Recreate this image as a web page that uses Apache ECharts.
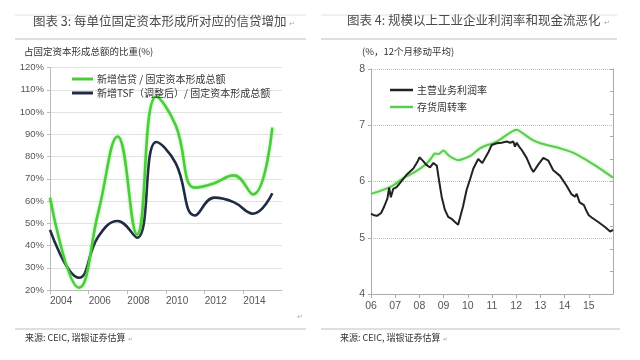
<!DOCTYPE html>
<html>
<head>
<meta charset="utf-8">
<script src="https://cdn.jsdelivr.net/npm/echarts@6/dist/echarts.min.js"></script>
<style>
html,body{margin:0;padding:0;background:#fff;}
#c{width:640px;height:360px;}
</style>
</head>
<body>
<div id="c"></div>
<script>
// ---- Chart 3 (left): annual ratios, x in years ----
var leftYears = [2003.5, 2005, 2006, 2007, 2008, 2009, 2010, 2011, 2012, 2013, 2014, 2015];
var loanRatio = [61.5, 21, 55, 89, 45, 107, 94, 66, 68, 71.5, 63, 93];
var tsfRatio  = [47, 25.5, 44, 51, 43.5, 86.5, 77, 53.5, 61.5, 59.5, 54.3, 63.5];
var leftNames = ['新增信贷 / 固定资本形成总额', '新增TSF（调整后）/ 固定资本形成总额'];

// ---- Chart 4 (right): 12-month moving averages, x in decimal years ----
var profitT = [2006.00,2006.12,2006.25,2006.42,2006.55,2006.68,2006.75,2006.82,2006.92,2007.06,2007.27,2007.47,2007.75,2007.92,2008.00,2008.12,2008.28,2008.44,2008.58,2008.72,2008.80,2008.92,2009.05,2009.19,2009.35,2009.47,2009.60,2009.65,2009.80,2009.95,2010.10,2010.23,2010.43,2010.60,2010.68,2010.85,2010.99,2011.19,2011.40,2011.61,2011.75,2011.88,2011.95,2012.02,2012.12,2012.23,2012.43,2012.60,2012.71,2012.91,2013.12,2013.33,2013.53,2013.81,2014.09,2014.29,2014.43,2014.50,2014.62,2014.80,2014.91,2015.00,2015.12,2015.39,2015.67,2015.88,2016.00];
var profitV = [5.43,5.40,5.39,5.44,5.56,5.70,5.89,5.72,5.87,5.90,6.01,6.12,6.23,6.35,6.43,6.38,6.30,6.25,6.33,6.28,6.05,5.73,5.50,5.37,5.33,5.28,5.23,5.20,5.55,5.85,6.05,6.23,6.40,6.33,6.35,6.52,6.65,6.68,6.69,6.71,6.69,6.71,6.62,6.69,6.62,6.56,6.42,6.25,6.17,6.30,6.42,6.37,6.20,6.10,5.92,5.77,5.73,5.78,5.63,5.58,5.47,5.40,5.36,5.28,5.19,5.11,5.14];
var turnT = [2006.00,2006.50,2006.92,2007.33,2007.82,2008.30,2008.55,2008.64,2008.80,2008.99,2009.19,2009.40,2009.60,2009.80,2010.09,2010.30,2010.50,2010.75,2011.05,2011.35,2011.61,2011.88,2012.02,2012.29,2012.71,2013.00,2013.26,2013.81,2014.36,2014.91,2015.46,2016.00];
var turnV = [5.78,5.85,5.93,6.06,6.17,6.32,6.45,6.50,6.49,6.55,6.47,6.41,6.38,6.40,6.45,6.52,6.59,6.64,6.68,6.75,6.83,6.90,6.92,6.85,6.73,6.68,6.65,6.59,6.51,6.38,6.23,6.07];
var rightNames = ['主营业务利润率', '存货周转率'];

function pairs(xs, ys){ return xs.map(function(x,i){ return [x, ys[i]]; }); }

var CJK = '"Noto Sans CJK SC", "Liberation Sans", sans-serif';
var NUM = '"Liberation Sans", "Noto Sans CJK SC", sans-serif';
var GREEN = '#4ccc3c';
var NAVY = '#1e2b42';

function txt(x, y, s, size, color){
  return {type:'text', left:x, top:y - size*0.65, silent:true,
    style:{text:s, fontSize:size, fontFamily:CJK, fill:color||'#555'}};
}
function hline(x1, x2, y, color, w){
  return {type:'line', silent:true, shape:{x1:x1, y1:y, x2:x2, y2:y},
    style:{stroke:color, lineWidth:w}};
}

var chart = echarts.init(document.getElementById('c'), null, {renderer:'canvas'});
chart.setOption({
  animation:false,
  backgroundColor:'#fff',
  textStyle:{fontFamily:CJK},
  grid:[
    {left:50, top:67.5, width:232, height:222.5},
    {left:371, top:69, width:242, height:225}
  ],
  xAxis:[
    {type:'value', gridIndex:0, min:2003.5, max:2015.5, interval:2,
     axisLine:{show:true, lineStyle:{color:'#bbb'}},
     axisTick:{show:true, length:4, lineStyle:{color:'#bbb'}},
     axisLabel:{color:'#555', fontSize:10, fontFamily:NUM, margin:6, align:'left',
       showMaxLabel:false, formatter:function(v){ return String(v + 0.5); }},
     splitLine:{show:false}},
    {type:'value', gridIndex:1, min:2006, max:2016, interval:1,
     axisLine:{show:true, lineStyle:{color:'#aaa'}},
     axisTick:{show:true, length:4, lineStyle:{color:'#aaa'}},
     axisLabel:{color:'#555', fontSize:10.5, fontFamily:NUM, margin:7,
       showMaxLabel:false, formatter:function(v){ return String(v).slice(2); }},
     splitLine:{show:false}}
  ],
  yAxis:[
    {type:'value', gridIndex:0, min:20, max:120, interval:10,
     axisLine:{show:true, lineStyle:{color:'#bbb'}},
     axisTick:{show:true, length:3, lineStyle:{color:'#bbb'}},
     axisLabel:{color:'#555', fontSize:9.5, fontFamily:NUM, margin:6, formatter:'{value}%'},
     splitLine:{show:true, lineStyle:{color:'#e2e2e2', width:1}}},
    {type:'value', gridIndex:1, min:4, max:8, interval:1,
     axisLine:{show:true, lineStyle:{color:'#aaa'}},
     axisTick:{show:true, length:3, lineStyle:{color:'#aaa'}},
     axisLabel:{color:'#555', fontSize:10.5, fontFamily:NUM, margin:6},
     splitLine:{show:true, lineStyle:{color:'#bbb', type:'dotted', width:1}}},
    {type:'value', gridIndex:1, position:'right', min:0, max:10, interval:1,
     axisLine:{show:true, onZero:false, lineStyle:{color:'#aaa'}},
     axisTick:{show:true, inside:true, length:3, lineStyle:{color:'#aaa'}},
     axisLabel:{show:false}, splitLine:{show:false}}
  ],
  legend:[
    {data:leftNames, left:72, top:73, orient:'vertical', icon:'rect',
     itemWidth:21, itemHeight:3, itemGap:2, padding:0, selectedMode:false,
     textStyle:{fontSize:10, color:'#333', fontFamily:CJK, lineHeight:12, padding:[0,0,0,-1]}},
    {data:rightNames, left:390, top:84, orient:'vertical', icon:'rect',
     itemWidth:23, itemHeight:2.5, itemGap:5, padding:0, selectedMode:false,
     textStyle:{fontSize:10, color:'#333', fontFamily:CJK, lineHeight:12, padding:[0,0,0,-1]}}
  ],
  series:[
    {name:leftNames[0], type:'line', xAxisIndex:0, yAxisIndex:0, smooth:0.45,
     showSymbol:false, data:pairs(leftYears, loanRatio), z:3,
     itemStyle:{color:GREEN},
     lineStyle:{color:GREEN, width:2.6, shadowColor:'rgba(90,220,70,0.55)', shadowBlur:3}},
    {name:leftNames[1], type:'line', xAxisIndex:0, yAxisIndex:0, smooth:0.45,
     showSymbol:false, data:pairs(leftYears, tsfRatio), z:2,
     itemStyle:{color:NAVY},
     lineStyle:{color:NAVY, width:2.6}},
    {name:rightNames[1], type:'line', xAxisIndex:1, yAxisIndex:1, smooth:0.3,
     showSymbol:false, data:pairs(turnT, turnV), z:2,
     itemStyle:{color:'#5ccc50'},
     lineStyle:{color:'#5ccc50', width:2, shadowColor:'rgba(100,220,90,0.6)', shadowBlur:3}},
    {name:rightNames[0], type:'line', xAxisIndex:1, yAxisIndex:1, smooth:false,
     showSymbol:false, data:pairs(profitT, profitV), z:3,
     itemStyle:{color:'#222'},
     lineStyle:{color:'#222', width:2}}
  ],
  graphic:[
    hline(15, 306, 15, '#e2e2e2', 1),
    hline(15, 306, 39, '#d5d5d5', 1.5),
    hline(15, 306, 329, '#d5d5d5', 1.5),
    hline(321, 617, 15, '#e2e2e2', 1),
    hline(321, 617, 39, '#d5d5d5', 1.5),
    hline(321, 620, 329, '#d5d5d5', 1.5),
    txt(33, 23, '图表 3: 每单位固定资本形成所对应的信贷增加', 12.5, '#4a4a4a'),
    txt(289, 24, '↵', 7, '#aaa'),
    txt(347, 22, '图表 4: 规模以上工业企业利润率和现金流恶化', 12.5, '#4a4a4a'),
    txt(604, 23, '↵', 7, '#aaa'),
    txt(24, 53, '占固定资本形成总额的比重(%)', 9.5, '#333'),
    txt(362, 53, '(%，12个月移动平均)', 9.5, '#333'),
    txt(297, 317, '↵', 7, '#aaa'),
    txt(25, 339, '来源: CEIC, 瑞银证券估算', 9, '#333'),
    txt(128, 340, '↵', 6, '#aaa'),
    txt(340, 339, '来源: CEIC, 瑞银证券估算', 9, '#333'),
    txt(443, 340, '↵', 6, '#aaa')
  ]
});
</script>
</body>
</html>
